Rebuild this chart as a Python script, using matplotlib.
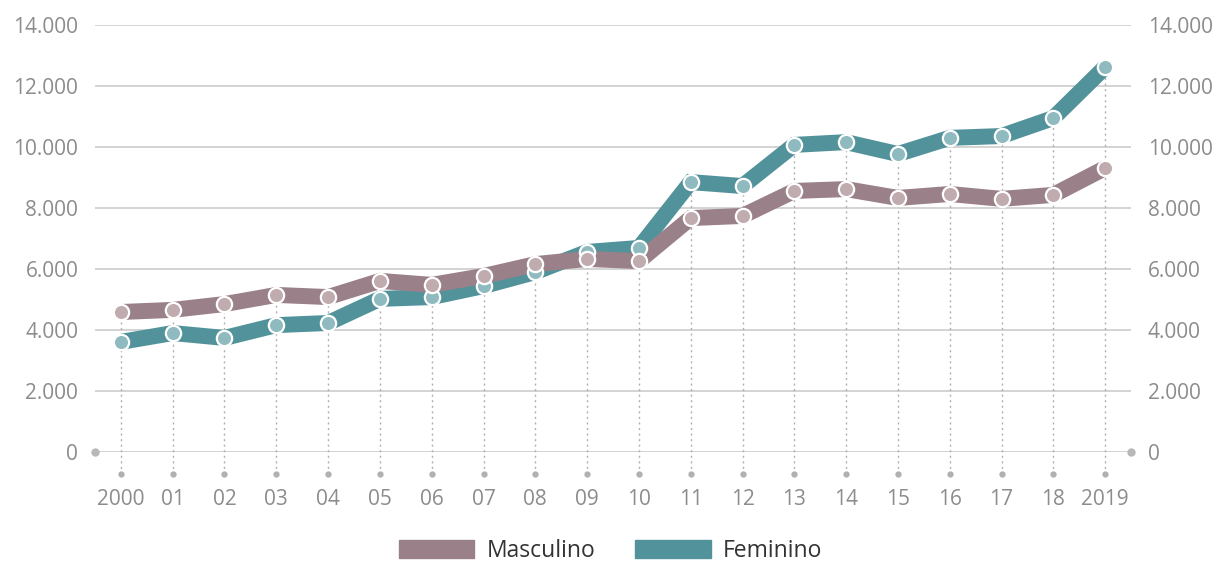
import matplotlib.pyplot as plt
from matplotlib.patches import Patch

plt.rcParams['font.family'] = ['Open Sans', 'DejaVu Sans']

anos = ['2000', '01', '02', '03', '04', '05', '06', '07', '08', '09',
        '10', '11', '12', '13', '14', '15', '16', '17', '18', '2019']
masculino = [4590, 4660, 4850, 5150, 5080, 5610, 5480, 5770, 6160, 6330,
             6260, 7670, 7740, 8560, 8620, 8330, 8460, 8300, 8430, 9310]
feminino = [3610, 3900, 3740, 4160, 4230, 5020, 5080, 5440, 5900, 6560,
            6690, 8850, 8720, 10070, 10160, 9770, 10300, 10360, 10950, 12620]
yticks = [0, 2000, 4000, 6000, 8000, 10000, 12000, 14000]
ylabels = ['0', '2.000', '4.000', '6.000', '8.000', '10.000', '12.000', '14.000']

cor_masc = '#9a8088'
cor_fem = '#52939b'
cor_masc_claro = '#c0abaf'
cor_fem_claro = '#8fbbc0'
cinza = '#8c8c8c'

fig = plt.figure(figsize=(12.21, 5.61), dpi=100)
ax = fig.add_axes([0.0778, 0.1943, 0.8485, 0.7611])

x = list(range(len(anos)))

# grid
for t in yticks:
    ax.axhline(t, color='#c8c8c8', lw=1.1, zorder=1)
ax.plot([-0.5, 19.5], [0, 0], 'o', color='#b8b8b8', ms=5, clip_on=False, zorder=2)

# dotted verticals and tick dots under the axis
for i in x:
    top = max(masculino[i], feminino[i])
    ax.plot([i, i], [-720, top], ls=(0, (1.5, 2.5)), color='#b0b0b0', lw=1, clip_on=False, zorder=1)
ax.plot(x, [-720] * len(x), 'o', color='#b0b0b0', ms=3.5, clip_on=False, zorder=2)

# thick lines
ax.plot(x, feminino, color=cor_fem, lw=11.5, solid_capstyle='butt', solid_joinstyle='miter', zorder=3)
ax.plot(x, masculino, color=cor_masc, lw=11.5, solid_capstyle='butt', solid_joinstyle='miter', zorder=4)
ax.plot(x, feminino, 'o', ms=11, mfc=cor_fem_claro, mec='white', mew=1.6, clip_on=False, zorder=5)
ax.plot(x, masculino, 'o', ms=11, mfc=cor_masc_claro, mec='white', mew=1.6, clip_on=False, zorder=6)

ax.set_xlim(-0.5, 19.5)
ax.set_ylim(0, 14000)
ax.set_yticks(yticks)
ax.set_yticklabels(ylabels)
ax.set_xticks(x)
ax.set_xticklabels(anos)
ax.tick_params(axis='y', length=0, labelleft=True, labelright=True, pad=12,
               labelsize=15, labelcolor=cinza)
ax.tick_params(axis='x', length=0, pad=27, labelsize=15, labelcolor=cinza)
for s in ax.spines.values():
    s.set_visible(False)

handles = [Patch(color=cor_masc, label='Masculino'), Patch(color=cor_fem, label='Feminino')]
fig.legend(handles=handles, loc='center', bbox_to_anchor=(0.5, 0.018), ncol=2, frameon=False,
           fontsize=16.5, labelcolor='#333333', handlelength=3.3, handleheight=0.87,
           handletextpad=0.52, columnspacing=1.75, borderpad=0)

fig.savefig('out.png', dpi=100)
